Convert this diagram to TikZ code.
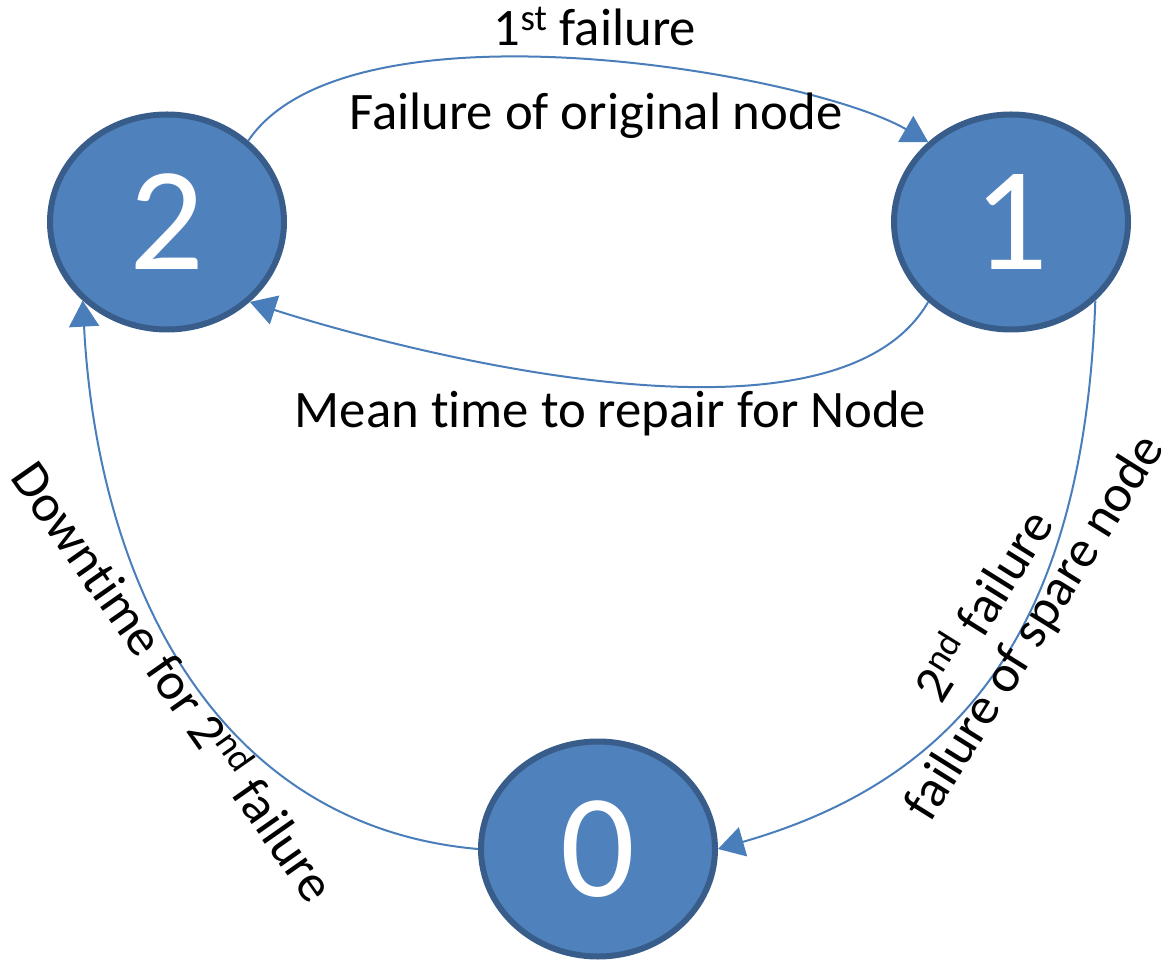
\documentclass[tikz,border=0pt]{standalone}
\usepackage{fontspec}
\setmainfont{Carlito}[Ligatures=NoCommon]
\usetikzlibrary{arrows.meta,shapes.geometric}
\definecolor{statefill}{HTML}{4F81BD}
\definecolor{stateedge}{HTML}{385D8A}
\definecolor{linkblue}{HTML}{4A7EBB}

\begin{document}
\begin{tikzpicture}
    \tikzstyle{state}=[ellipse,draw=stateedge,fill=statefill,line width=0.12cm,minimum width=4.68cm,minimum height=4.3cm,inner sep=0,text=white,font=\fontsize{84}{84}\selectfont]
    \tikzstyle{link}=[linkblue,line width=0.04cm,-{Triangle[length=0.52cm,width=0.6cm]}]
    \tikzstyle{lbl}=[font=\fontsize{30}{32}\selectfont,inner sep=0]
    \useasboundingbox (0,0) rectangle (23.3,19.22);
    % the three states
    \path (3.34,14.78) node[state] (two) {2};
    \path (20.22,14.78) node[state] (one) {1};
    \path (11.96,2.24) node[state] (zero) {0};
    % transitions
    \draw[link] (two.45) .. controls +(56:3.55) and +(150:2.8) .. (one.136);
    \draw[link] (one.224) .. controls +(240:4.0) and +(-18:2.12) .. (two.-44);
    \draw[link] (one.-43) .. controls +(-92:6.6) and +(16:5.0) .. (zero.east);
    \draw[link] (zero.west) .. controls +(175:5.3) and +(-87:5.6) .. (two.223);
    % labels
    \path (11.9,18.3) node[lbl,anchor=base] (firstfail) {1\textsuperscript{st} failure};
    \path (11.92,16.62) node[lbl,anchor=base] (origfail) {Failure of original node};
    \path (12.21,10.66) node[lbl,anchor=base] (repair) {Mean time to repair for Node};
    \path (3.52,5.62) node[lbl,rotate=-55] (downtime) {Downtime for 2\textsuperscript{nd} failure};
    \path (19.62,7.14) node[lbl,rotate=58] (secondfail) {2\textsuperscript{nd} failure};
    \path (20.72,6.66) node[lbl,rotate=58] (sparefail) {failure of spare node};
\end{tikzpicture}
\end{document}
